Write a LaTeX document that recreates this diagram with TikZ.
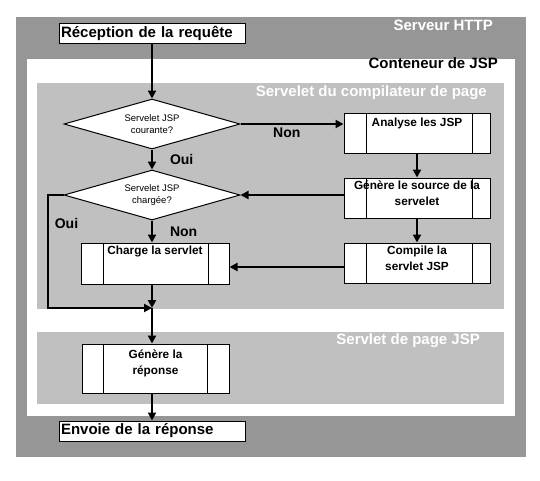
\documentclass[tikz,border=0pt]{standalone}
\usepackage{fontspec}
\setmainfont{Liberation Sans}
\usetikzlibrary{shapes.geometric,arrows.meta}
\definecolor{darkbg}{RGB}{150,150,150}
\definecolor{lightbg}{RGB}{192,192,192}
\begin{document}
\begin{tikzpicture}[x=1pt,y=-1pt,
  bigfont/.style={font=\fontsize{15}{18}\selectfont\bfseries},
  procfont/.style={font=\fontsize{11.8}{16}\selectfont\bfseries, align=center, inner sep=0pt},
  lbl/.style={font=\fontsize{14}{16}\selectfont\bfseries, inner sep=0pt},
  heading/.style={bigfont, anchor=east, inner sep=0pt},
  iobox/.style={draw, fill=white, line width=1pt, bigfont, minimum height=20pt,
    text width=182pt, align=left, inner xsep=2pt, inner ysep=0pt},
  decision/.style={draw, fill=white, line width=1pt, diamond, shape aspect=3.5,
    minimum width=176pt, minimum height=50pt, inner sep=0pt, align=center,
    font=\fontsize{9.5}{11.5}\selectfont},
  proc/.style n args={2}{draw, fill=white, line width=1pt, inner sep=0pt,
    path picture={
      \draw[line width=1pt] ([xshift=#1]path picture bounding box.north west) -- ([xshift=#1]path picture bounding box.south west);
      \draw[line width=1pt] ([xshift=-#2]path picture bounding box.north east) -- ([xshift=-#2]path picture bounding box.south east);
    }},
  conn/.style={line width=2pt, -{Triangle[length=8pt,width=8pt]}}
]
\useasboundingbox (0,0) rectangle (540,480);
\fill[white] (0,0) rectangle (540,480);
% background panels
\fill[darkbg] (16,17) rectangle (526,457);
\fill[white] (27,59) rectangle (515,416);
\fill[lightbg] (37,83) rectangle (504,309);
\fill[lightbg] (37,332) rectangle (504,404);

% headings
\node[heading, text=white] (hHTTP) at (493,25) {Serveur HTTP};
\node[heading, text=black] (hJSP) at (498,63) {Conteneur de JSP};
\node[heading, text=white] (hComp) at (487,93) {Servelet du compilateur de page};
\node[heading, text=white] (hPage) at (480,341) {Servlet de page JSP};

% nodes
\node[iobox] (rec) at (152,33) {Réception de la requête};
\node[iobox] (env) at (152,431) {Envoie de la réponse};

\node[decision] (d1) at (152,124) {Servelet JSP\\courante?};
\node[decision] (d2) at (152,195) {Servelet JSP\\chargée?};

\node[proc={22pt}{18pt}, minimum width=146pt, minimum height=40pt,
  label={[procfont, anchor=north, yshift=-5pt]north:Analyse les JSP}] (ana) at (417,133) {};
\node[proc={22pt}{18pt}, minimum width=146pt, minimum height=40pt,
  label={[procfont, anchor=north, yshift=-3pt]north:Génère le source de la\\servelet}] (gsrc) at (417,198) {};
\node[proc={22pt}{18pt}, minimum width=146pt, minimum height=40pt,
  label={[procfont, anchor=north, yshift=-3pt]north:Compile la\\servlet JSP}] (comp) at (417,263) {};
\node[proc={22pt}{21pt}, minimum width=148pt, minimum height=41pt,
  label={[procfont, anchor=north, yshift=-3pt]north:Charge la servlet}] (charge) at (155,263.5) {};
\node[proc={21pt}{22pt}, minimum width=147pt, minimum height=49pt,
  label={[procfont, anchor=north, yshift=-6pt]north:Génère la\\réponse}] (grep) at (155.5,368.5) {};

\coordinate (m) at (152,308);

% connectors
\draw[conn] (rec.south) -- (d1.north);
\draw[conn] (d1.south) -- node[lbl, anchor=west, xshift=17pt] (oui1) {Oui} (d2.north);
\draw[conn] (d1.east) -- node[lbl, anchor=north, yshift=-3pt, pos=0.45] (non1) {Non} (d1.east -| ana.west);
\draw[conn] (ana.south) -- (gsrc.north);
\draw[conn] (gsrc.south) -- (comp.north);
\draw[conn] (gsrc.west |- d2.east) -- (d2.east);
\draw[conn] ([yshift=-4pt]comp.west) -- ([yshift=-4pt]comp.west -| charge.east);
\draw[conn] (d2.south) -- node[lbl, anchor=west, xshift=17pt] (non2) {Non} (d2.south |- charge.north);
\draw[conn] (charge.south -| m) -- (m);
\draw[conn] (d2.west) -- ++(-16,0) |- (m);
\node[lbl] (oui2) at (66.5,223) {Oui};
\draw[conn] (m) -- (m |- grep.north);
\draw[conn] (m |- grep.south) -- (env.north);
\end{tikzpicture}
\end{document}
